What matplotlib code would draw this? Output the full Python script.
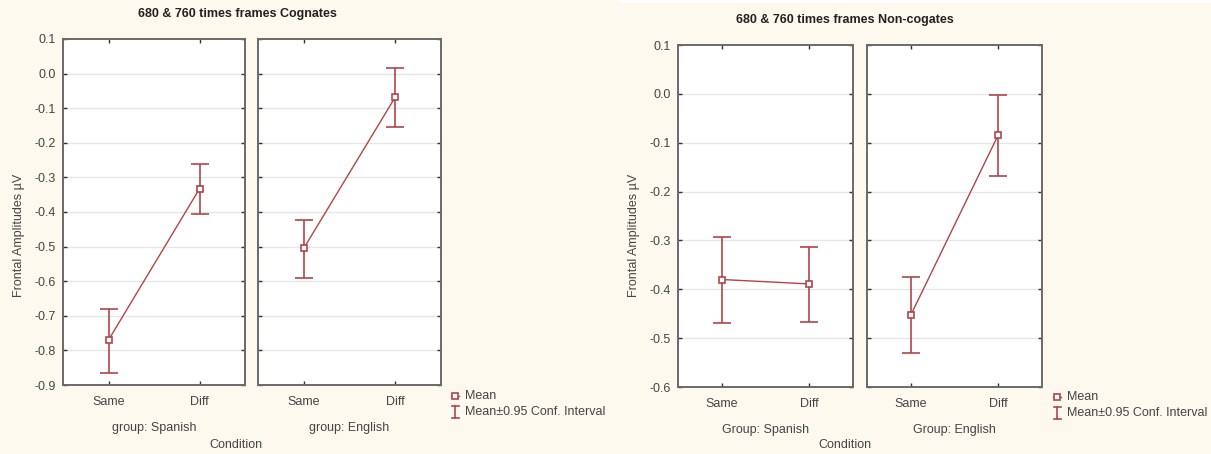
import matplotlib
matplotlib.use("Agg")
import matplotlib.pyplot as plt
from matplotlib.patches import Rectangle

plt.rcParams["font.family"] = ["Liberation Sans", "DejaVu Sans"]

# ---- data ---------------------------------------------------------------
conditions = ["Same", "Diff"]

cog_spanish_mean = [-0.770, -0.333]
cog_spanish_lo = [-0.865, -0.405]
cog_spanish_hi = [-0.680, -0.260]
cog_english_mean = [-0.505, -0.068]
cog_english_lo = [-0.592, -0.154]
cog_english_hi = [-0.423, 0.016]

non_spanish_mean = [-0.380, -0.389]
non_spanish_lo = [-0.469, -0.467]
non_spanish_hi = [-0.293, -0.313]
non_english_mean = [-0.453, -0.084]
non_english_lo = [-0.531, -0.168]
non_english_hi = [-0.375, -0.002]

cog_yticks = [0.1, 0.0, -0.1, -0.2, -0.3, -0.4, -0.5, -0.6, -0.7, -0.8, -0.9]
non_yticks = [0.1, 0.0, -0.1, -0.2, -0.3, -0.4, -0.5, -0.6]

# ---- styling ------------------------------------------------------------
W, H = 1211, 454
BG = "#FDF9EE"
RED = "#B0454A"
TXT = "#454545"
FRAME = "#6A6A6A"
FS = 9

fig = plt.figure(figsize=(W / 100, H / 100), dpi=100, facecolor=BG)


def px_axes(x0, y0, x1, y1):
    """Axes placed by pixel box (top-left origin)."""
    return fig.add_axes([x0 / W, 1 - y1 / H, (x1 - x0) / W, (y1 - y0) / H])


def panel(ax, means, lo, hi, yticks, group, first):
    x = [0, 1]
    ax.set_facecolor("white")
    ax.set_xlim(-0.5, 1.5)
    ax.set_ylim(min(yticks), max(yticks))
    ax.set_yticks(yticks)
    ax.set_xticks(x)
    ax.set_xticklabels(conditions)
    for t in yticks[1:-1]:
        ax.axhline(t, color="#E6E6E6", lw=1.0, zorder=0)
    err = [[m - l for m, l in zip(means, lo)], [h - m for m, h in zip(means, hi)]]
    ax.errorbar(x, means, yerr=err, fmt="none", ecolor=RED, elinewidth=1.2,
                capsize=6.5, capthick=1.2, zorder=2)
    ax.plot(x, means, color=RED, lw=1.0, zorder=3)
    ax.plot(x, means, ls="none", marker="s", ms=5, mfc="white", mec=RED,
            mew=1.2, zorder=4)
    for s in ax.spines.values():
        s.set_color(FRAME)
        s.set_linewidth(1.4)
    ax.tick_params(direction="in", length=3, width=1, color="#333333",
                   top=True, right=True, labelsize=FS, labelcolor=TXT)
    ax.tick_params(axis="x", pad=8)
    ax.tick_params(axis="y", pad=5)
    if first:
        ax.set_yticklabels([f"{t:.1f}" for t in yticks])
        ax.set_ylabel("Frontal Amplitudes µV", fontsize=FS, color=TXT)
    else:
        ax.set_yticklabels([])
    ax.set_xlabel(group, fontsize=FS, color=TXT, labelpad=10)


# ---- cognates -----------------------------------------------------------
a1 = px_axes(63, 39, 245, 385)
a2 = px_axes(258, 39, 441, 385)
panel(a1, cog_spanish_mean, cog_spanish_lo, cog_spanish_hi, cog_yticks,
      "group: Spanish", True)
panel(a2, cog_english_mean, cog_english_lo, cog_english_hi, cog_yticks,
      "group: English", False)
a1.yaxis.set_label_coords((25 - 63) / 182, 1 - (235 - 39) / 346)

# ---- non-cognates -------------------------------------------------------
b1 = px_axes(678, 45, 853, 387)
b2 = px_axes(867, 45, 1042, 387)
panel(b1, non_spanish_mean, non_spanish_lo, non_spanish_hi, non_yticks,
      "Group: Spanish", True)
panel(b2, non_english_mean, non_english_lo, non_english_hi, non_yticks,
      "Group: English", False)
b1.yaxis.set_label_coords((640 - 678) / 175, 1 - (235 - 45) / 342)

# ---- overlay for titles, shared labels and legends ----------------------
ov = fig.add_axes([0, 0, 1, 1], zorder=-1)
ov.set_xlim(0, W)
ov.set_ylim(H, 0)
ov.axis("off")
ov.add_patch(Rectangle((619, 0), W - 619, 3, color="white", lw=0))

over = fig.add_axes([0, 0, 1, 1], zorder=5)
over.set_xlim(0, W)
over.set_ylim(H, 0)
over.axis("off")
over.patch.set_alpha(0)

over.text(237, 14, "680 & 760 times frames Cognates", fontsize=FS,
          fontweight="bold", ha="center", va="center", color="#222222")
over.text(845, 20, "680 & 760 times frames Non-cogates", fontsize=FS,
          fontweight="bold", ha="center", va="center", color="#222222")
over.text(236, 445, "Condition", fontsize=FS, ha="center", va="center", color=TXT)
over.text(845, 445, "Condition", fontsize=FS, ha="center", va="center", color=TXT)


def legend(x, y):
    over.plot([x - 4, x + 4], [y, y], color=RED, lw=1.0)
    over.plot([x], [y], marker="s", ms=4, mfc="white", mec=RED, mew=1.2)
    y2 = y + 16
    over.plot([x, x], [y2 - 6, y2 + 6], color=RED, lw=1.2)
    over.plot([x - 3.5, x + 3.5], [y2 - 6, y2 - 6], color=RED, lw=1.2)
    over.plot([x - 3.5, x + 3.5], [y2 + 6, y2 + 6], color=RED, lw=1.2)
    over.text(x + 10, y, "Mean", fontsize=FS, va="center", color=TXT)
    over.text(x + 10, y2, "Mean±0.95 Conf. Interval", fontsize=FS,
              va="center", color=TXT)


legend(455, 396)
legend(1057, 397)

fig.savefig("out.png", dpi=100, facecolor=BG)
